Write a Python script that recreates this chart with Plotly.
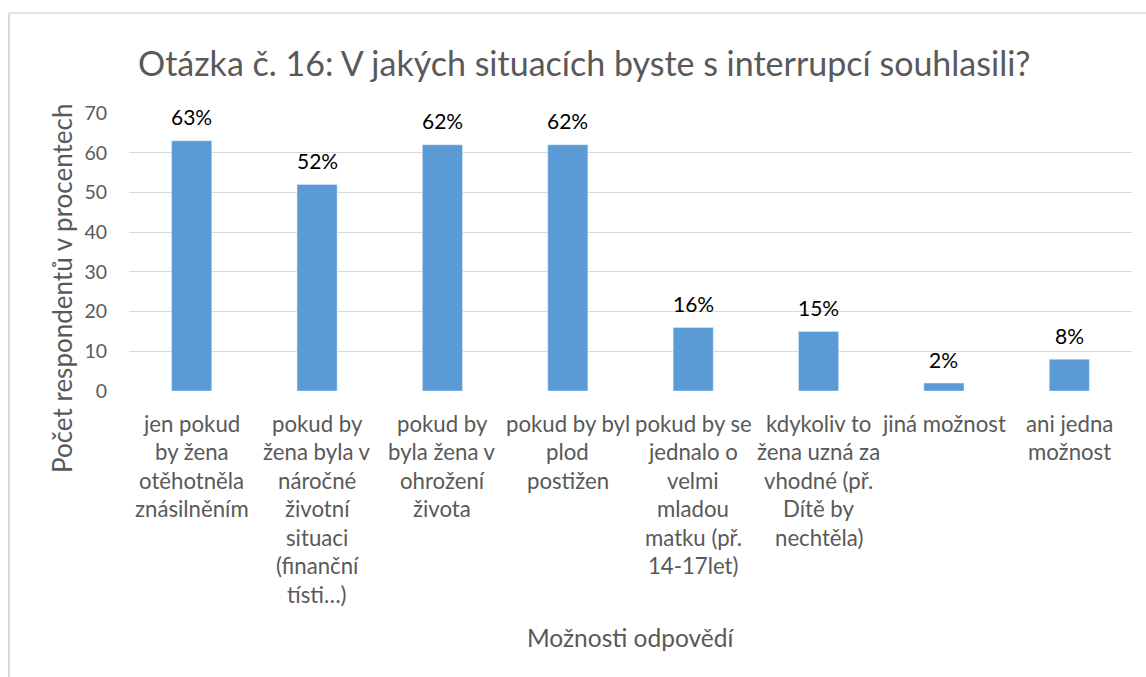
import plotly.graph_objects as go

title_text = "Otázka č. 16: V jakých situacích byste s interrupcí souhlasili?"
categories = [
    "jen pokud<br>by žena<br>otěhotněla<br>znásilněním",
    "pokud by<br>žena byla v<br>náročné<br>životní<br>situaci<br>(finanční<br>tísti…)",
    "pokud by<br>byla žena v<br>ohrožení<br>života",
    "pokud by byl<br>plod<br>postižen",
    "pokud by se<br>jednalo o<br>velmi<br>mladou<br>matku (př.<br>14-17let)",
    "kdykoliv to<br>žena uzná za<br>vhodné (př.<br>Dítě by<br>nechtěla)",
    "jiná možnost",
    "ani jedna<br>možnost",
]
values = [63, 52, 62, 62, 16, 15, 2, 8]
labels = ["63%", "52%", "62%", "62%", "16%", "15%", "2%", "8%"]
y_ticks = [0, 10, 20, 30, 40, 50, 60, 70]
x_title = "Možnosti odpovědí"
y_title = "Počet respondentů v procentech"

FONT = "Lato"
GRAY = "#595959"
BAR = "#5B9BD5"
GRID = "#D9D9D9"

W, H = 1146, 677
ML, MR, MT, MB = 129, 14, 113, 286
PW = W - ML - MR
PH = H - MT - MB

xs = list(range(len(categories)))

fig = go.Figure()
fig.add_trace(go.Bar(x=xs, y=values, marker_color=BAR, width=0.32,
                     hoverinfo="skip"))

annotations = []
# data labels
for x, v, t in zip(xs, values, labels):
    annotations.append(dict(x=x, y=v, xref="x", yref="y", text=t,
                            showarrow=False, yanchor="middle", yshift=24,
                            font=dict(family=FONT, size=21, color="#000000")))
# category labels (one annotation per line, Excel-like line spacing)
LINE = 28.5
for x, c in zip(xs, categories):
    for i, line in enumerate(c.split("<br>")):
        annotations.append(dict(x=x, y=0, xref="x", yref="paper", text=line,
                                showarrow=False, yanchor="middle",
                                yshift=-(32 + i * LINE),
                                font=dict(family=FONT, size=22.2, color=GRAY)))
# axis titles
annotations.append(dict(x=0.5, y=0, xref="paper", yref="paper", text=x_title,
                        showarrow=False, yanchor="middle", yshift=-246,
                        font=dict(family=FONT, size=24.5, color=GRAY)))
annotations.append(dict(x=0, y=(MT + PH - 288) / PH, xref="paper", yref="paper",
                        text=y_title, textangle=-90, showarrow=False,
                        xanchor="center", yanchor="middle", xshift=-(ML - 62),
                        font=dict(family=FONT, size=26, color=GRAY)))
# title
annotations.append(dict(x=(584 - ML) / PW, y=1, xref="paper", yref="paper",
                        text=title_text, showarrow=False, yanchor="middle",
                        yshift=(MT - 62),
                        font=dict(family=FONT, size=34, color=GRAY)))

shapes = [
    dict(type="line", xref="paper", yref="paper",
         x0=(9 - ML) / PW, x1=(W + 10 - ML) / PW,
         y0=(MT + PH - 13) / PH, y1=(MT + PH - 13) / PH,
         line=dict(color=GRID, width=1.5)),
    dict(type="line", xref="paper", yref="paper",
         x0=(9 - ML) / PW, x1=(9 - ML) / PW,
         y0=(MT + PH - 13) / PH, y1=(MT + PH - H - 10) / PH,
         line=dict(color=GRID, width=2)),
]

fig.update_layout(
    width=W, height=H,
    margin=dict(l=ML, r=MR, t=MT, b=MB),
    paper_bgcolor="white", plot_bgcolor="white",
    showlegend=False,
    annotations=annotations,
    shapes=shapes,
    xaxis=dict(range=[-0.5, len(categories) - 0.5], showticklabels=False,
               showgrid=False, zeroline=False, showline=False, ticks=""),
    yaxis=dict(range=[0, 70], tickvals=y_ticks, showgrid=True,
               gridcolor=GRID, gridwidth=1, zeroline=False, showline=False,
               ticks="", ticklabelstandoff=21,
               tickfont=dict(family=FONT, size=19.5, color=GRAY)),
)

fig.write_html("out.html", include_plotlyjs=True,
               config=dict(displayModeBar=False),
               post_script="document.body.style.margin='0';document.body.style.padding='0';")
